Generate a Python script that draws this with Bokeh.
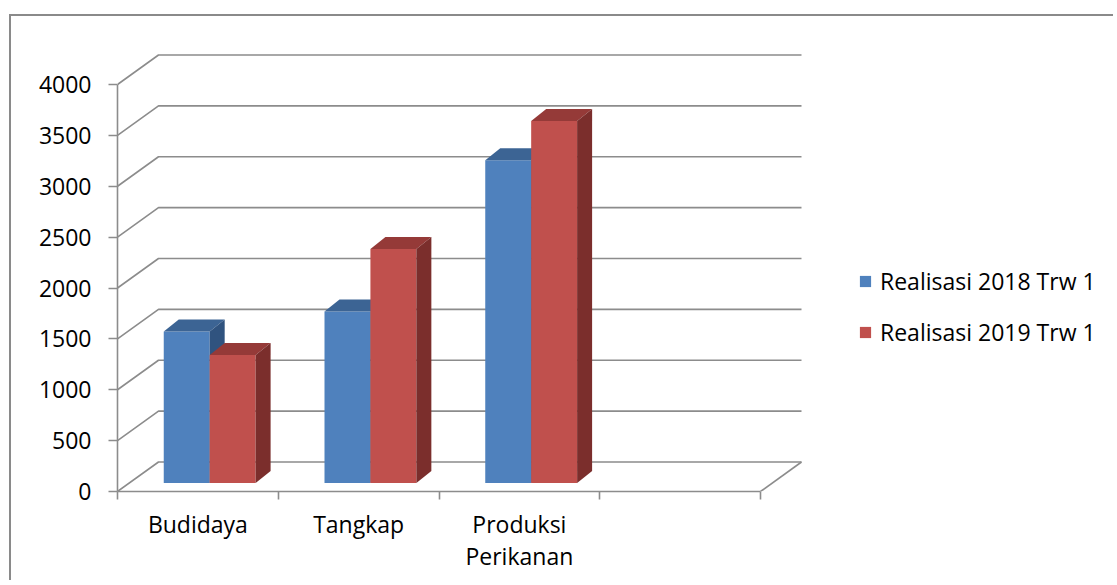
import numpy as np
from bokeh.plotting import figure
from bokeh.models import Range1d, FixedTicker, Legend, LegendItem
from bokeh.embed import file_html
from bokeh.resources import INLINE

# ---------------- data ----------------
categories = ["Budidaya", "Tangkap", "Produksi\nPerikanan"]
n_slots = 4  # the chart has an empty fourth category slot
series_names = ["Realisasi 2018 Trw 1", "Realisasi 2019 Trw 1"]
realisasi_2018 = [1488, 1685, 3173]
realisasi_2019 = [1259, 2299, 3558]
y_ticks = [0, 500, 1000, 1500, 2000, 2500, 3000, 3500, 4000]

# ---------------- styles ----------------
front_colors = ["#4f81bd", "#c0504d"]
top_colors = ["#3c6494", "#953a38"]
side_colors = ["#30537f", "#7b2e2c"]
grid_color = "#8c8c8c"
FONT = "Open Sans"
FONT_SIZE = "23px"

# ---------------- geometry (pixel scale of the chart) ----------------
W, H = 1104, 566
MB_LEFT, MB_RIGHT, MB_TOP, MB_BOTTOM = 106, 7, 15, 91
PX_PER_CAT = 160.75
PX_PER_UNIT = 0.10175
frame_w = W - MB_LEFT - MB_RIGHT
frame_h = H - MB_TOP - MB_BOTTOM

fx = 41.0 / PX_PER_CAT          # floor depth (x, data units)
fy = 29.5 / PX_PER_UNIT         # floor depth (y, data units)
ox = 11.8 / PX_PER_CAT          # bar front-plane offset
oy = 8.5 / PX_PER_UNIT
bx = 15.0 / PX_PER_CAT          # bar depth
by = 12.0 / PX_PER_UNIT
bar_w = 1.0 / 3.5               # gap width 150%

p = figure(width=W, height=H, output_backend="svg", toolbar_location=None,
           x_range=Range1d(0, frame_w / PX_PER_CAT),
           y_range=Range1d(0, frame_h / PX_PER_UNIT),
           min_border_left=MB_LEFT, min_border_right=MB_RIGHT,
           min_border_top=MB_TOP, min_border_bottom=MB_BOTTOM)
p.margin = (14, 0, 0, 9)
p.styles = {"border-left": "2px solid #8a8a8a", "border-top": "2px solid #8a8a8a"}
p.outline_line_color = None
p.xgrid.visible = False
p.ygrid.visible = False
p.background_fill_color = "white"
p.border_fill_color = "white"

# back wall gridlines + floor
gx, gy = [], []
for v in y_ticks:
    gx.append([0, fx, n_slots + fx])
    gy.append([v, v + fy, v + fy])
gx.append([n_slots, n_slots + fx])
gy.append([0, fy])
p.multi_line(gx, gy, line_color=grid_color, line_width=1.6)

# bars
front_renderers = []
for s, vals in enumerate([realisasi_2018, realisasi_2019]):
    lefts, rights, bottoms, tops = [], [], [], []
    top_xs, top_ys, side_xs, side_ys = [], [], [], []
    for i, v in enumerate(vals):
        x0 = i + (1 - 2 * bar_w) / 2 + s * bar_w + ox
        x1 = x0 + bar_w
        y0 = oy
        y1 = v + oy
        lefts.append(x0); rights.append(x1); bottoms.append(y0); tops.append(y1)
        top_xs.append([x0, x1, x1 + bx, x0 + bx])
        top_ys.append([y1, y1, y1 + by, y1 + by])
        side_xs.append([x1, x1, x1 + bx, x1 + bx])
        side_ys.append([y0, y1, y1 + by, y0 + by])
    r = p.quad(left=lefts, right=rights, bottom=bottoms, top=tops,
               fill_color=front_colors[s], line_color=None)
    p.patches(top_xs, top_ys, fill_color=top_colors[s], line_color=None)
    p.patches(side_xs, side_ys, fill_color=side_colors[s], line_color=None)
    front_renderers.append(r)

# axes
xa = p.xaxis[0]
xa.ticker = FixedTicker(ticks=[i + 0.5 for i in range(len(categories))],
                        minor_ticks=list(range(n_slots + 1)))
xa.major_label_overrides = {i + 0.5: c for i, c in enumerate(categories)}
xa.bounds = (0, n_slots)
xa.axis_line_color = grid_color
xa.axis_line_width = 1.6
xa.major_tick_out = 0
xa.major_tick_in = 0
xa.minor_tick_out = 8
xa.minor_tick_in = 0
xa.minor_tick_line_color = grid_color
xa.minor_tick_line_width = 1.6
xa.major_label_text_font = FONT
xa.major_label_text_font_size = FONT_SIZE
xa.major_label_text_color = "black"
xa.major_label_text_line_height = 1.02
xa.major_label_standoff = 8

ya = p.yaxis[0]
ya.ticker = FixedTicker(ticks=y_ticks, minor_ticks=[])
ya.bounds = (0, 4000)
ya.axis_line_color = grid_color
ya.axis_line_width = 1.6
ya.major_tick_out = 9
ya.major_tick_in = 0
ya.major_tick_line_color = grid_color
ya.major_tick_line_width = 1.6
ya.minor_tick_out = 0
ya.minor_tick_in = 0
ya.major_label_text_font = FONT
ya.major_label_text_font_size = FONT_SIZE
ya.major_label_text_color = "black"
ya.major_label_standoff = 17

legend = Legend(items=[LegendItem(label=series_names[k], renderers=[front_renderers[k]])
                       for k in range(2)],
                location=(741, 143), orientation="vertical",
                glyph_width=14, glyph_height=14, label_standoff=8,
                spacing=19, padding=0, margin=0,
                border_line_color=None, background_fill_alpha=0,
                label_text_font=FONT, label_text_font_size=FONT_SIZE,
                label_text_color="black")
p.add_layout(legend)

open("out.html", "w").write(file_html(p, INLINE))
